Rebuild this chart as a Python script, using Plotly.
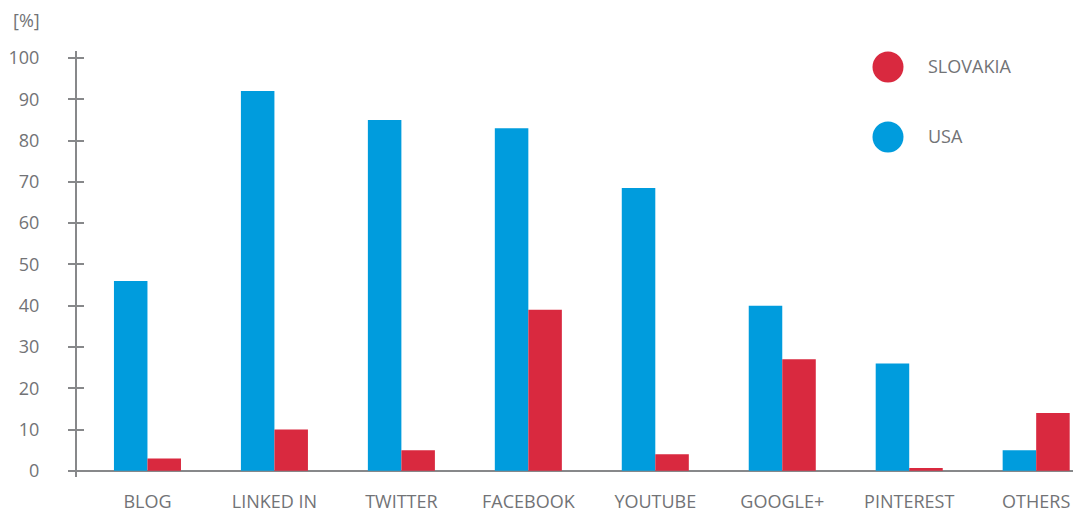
import plotly.graph_objects as go

# ---- data ----
categories = ["BLOG", "LINKED IN", "TWITTER", "FACEBOOK", "YOUTUBE", "GOOGLE+", "PINTEREST", "OTHERS"]
usa = [46, 92, 85, 83, 68.5, 40, 26, 5]
slovakia = [3, 10, 5, 39, 4, 27, 0.7, 14]
y_ticks = [0, 10, 20, 30, 40, 50, 60, 70, 80, 90, 100]
legend_names = ["SLOVAKIA", "USA"]

# ---- style ----
BLUE = "#009cdd"
RED = "#d9293f"
AXIS = "#87888a"
TEXT = "#727376"
FONT = "Open Sans"
FS = 18

W, H = 1073, 514
ML, MR, MT, MB = 77, 0, 51, 37
YR = [-1.5, 101.7]
XR = [-0.555, 7.29]

fig = go.Figure()
fig.add_trace(go.Bar(x=categories, y=usa, name="USA", marker=dict(color=BLUE, line=dict(width=0)),
                     showlegend=False))
fig.add_trace(go.Bar(x=categories, y=slovakia, name="SLOVAKIA", marker=dict(color=RED, line=dict(width=0)),
                     showlegend=False))

# invisible trace for the overlay axis carrying the inner half of the crossing ticks
fig.add_trace(go.Scatter(x=[categories[0]], y=[None], yaxis="y2", showlegend=False, hoverinfo="skip"))

# legend drawn on a pixel-scaled overlay axis pair
leg_colors = [RED, BLUE]
leg_x = [888, 888]
leg_y = [67, 137]
fig.add_trace(go.Scatter(x=leg_x, y=leg_y, xaxis="x3", yaxis="y3", mode="markers",
                         marker=dict(size=31, color=leg_colors), showlegend=False, hoverinfo="skip",
                         cliponaxis=False))
fig.add_trace(go.Scatter(x=[x + 40 for x in leg_x], y=[y + 1 for y in leg_y], xaxis="x3", yaxis="y3", mode="text",
                         text=legend_names, textposition="middle right",
                         textfont=dict(family=FONT, size=FS, color=TEXT),
                         showlegend=False, hoverinfo="skip", cliponaxis=False))

fig.update_layout(
    width=W, height=H, autosize=False,
    margin=dict(l=ML, r=MR, t=MT, b=MB, pad=0, autoexpand=False),
    paper_bgcolor="white", plot_bgcolor="white",
    barmode="group", bargap=0.472, bargroupgap=0,
    font=dict(family=FONT, size=FS, color=TEXT),
    xaxis=dict(range=XR, showgrid=False, showline=False, zeroline=False, ticks="", automargin=False,
               tickfont=dict(family=FONT, size=FS, color=TEXT), ticklabelstandoff=12),
    yaxis=dict(range=YR, tickvals=y_ticks, showgrid=False, showline=True, linecolor=AXIS, linewidth=2,
               ticks="outside", ticklen=7, tickwidth=2, tickcolor=AXIS, automargin=False,
               zeroline=True, zerolinecolor=AXIS, zerolinewidth=2,
               tickfont=dict(family=FONT, size=FS, color=TEXT), ticklabelstandoff=25),
    yaxis2=dict(range=YR, overlaying="y", anchor="x", side="left", tickvals=y_ticks,
                showticklabels=False, showgrid=False, showline=False, zeroline=False,
                ticks="inside", ticklen=7, tickwidth=2, tickcolor=AXIS),
    xaxis3=dict(domain=[0, 1], range=[ML, W - MR], visible=False, anchor="y3", overlaying="x"),
    yaxis3=dict(domain=[0, 1], range=[H - MB, MT], visible=False, anchor="x3", overlaying="y"),
    annotations=[dict(text="[%]", xref="paper", yref="paper", x=(42 - ML) / (W - ML - MR),
                      y=(H - MB - 20) / (H - MT - MB), xanchor="right", yanchor="middle",
                      showarrow=False, font=dict(family=FONT, size=FS, color=TEXT))],
    showlegend=False,
)

fig.write_html("out.html")
